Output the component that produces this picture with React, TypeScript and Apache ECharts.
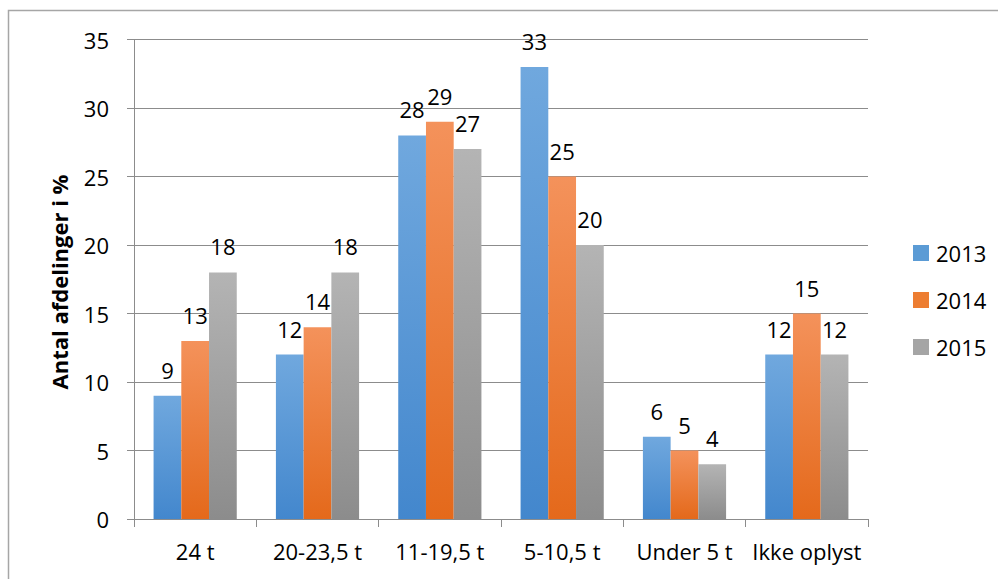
import React, { useEffect, useRef } from "react";
import * as echarts from "echarts";

const categories = ["24 t", "20-23,5 t", "11-19,5 t", "5-10,5 t", "Under 5 t", "Ikke oplyst"];
const seriesNames = ["2013", "2014", "2015"];
const values2013 = [9, 12, 28, 33, 6, 12];
const values2014 = [13, 14, 29, 25, 5, 15];
const values2015 = [18, 18, 27, 20, 4, 12];
const yTicks = { min: 0, max: 35, interval: 5 };

const FONT = "'Open Sans', 'Liberation Sans', sans-serif";

function grad(top: string, bottom: string) {
  return new echarts.graphic.LinearGradient(0, 0, 0, 1, [
    { offset: 0, color: top },
    { offset: 1, color: bottom },
  ]);
}

export default function App() {
  const ref = useRef<HTMLDivElement>(null);
  useEffect(() => {
    if (!ref.current) return;
    const chart = echarts.init(ref.current, null, { renderer: "svg" });
    const colors = [
      grad("#70a8de", "#4387cd"),
      grad("#f4925b", "#e4691b"),
      grad("#b4b4b4", "#8c8c8c"),
    ];
    const legendColors = ["#5b9bd5", "#ed7d31", "#a5a5a5"];
    const data = [values2013, values2014, values2015];
    chart.setOption({
      animation: false,
      backgroundColor: "#ffffff",
      textStyle: { fontFamily: FONT },
      graphic: [
        {
          type: "rect",
          shape: { x: 8.5, y: 10.5, width: 1000, height: 600 },
          style: { fill: "none", stroke: "#a6a6a6", lineWidth: 1.5 },
          silent: true,
        },
        {
          type: "text",
          x: 59,
          y: 282,
          rotation: Math.PI / 2,
          style: {
            text: "Antal afdelinger i %",
            fontFamily: FONT,
            fontWeight: "bold",
            fontSize: 22,
            fill: "#000",
            align: "center",
            verticalAlign: "middle",
          },
        },
      ],
      legend: {
        orient: "vertical",
        left: 908,
        top: 237,
        itemWidth: 16,
        itemHeight: 16,
        itemGap: 25,
        icon: "rect",
        textStyle: { fontSize: 22, color: "#000", fontFamily: FONT, padding: [0, 0, 0, 2] },
        data: seriesNames.map((n, i) => ({ name: n, itemStyle: { color: legendColors[i] } })),
      },
      grid: { left: 134, top: 39.5, width: 734, height: 479.5, containLabel: false },
      xAxis: {
        type: "category",
        data: categories,
        axisLine: { lineStyle: { color: "#8c8c8c", width: 1 } },
        axisTick: { show: true, length: 8, lineStyle: { color: "#8c8c8c" } },
        axisLabel: { fontSize: 22, color: "#000", margin: 21, fontFamily: FONT, interval: 0 },
      },
      yAxis: {
        type: "value",
        min: yTicks.min,
        max: yTicks.max,
        interval: yTicks.interval,
        axisLine: { show: true, lineStyle: { color: "#8c8c8c" } },
        axisTick: { show: true, length: 7, lineStyle: { color: "#8c8c8c" } },
        splitLine: { lineStyle: { color: "#8c8c8c" } },
        axisLabel: { fontSize: 22, color: "#000", margin: 25, fontFamily: FONT },
      },
      series: seriesNames.map((n, i) => ({
        name: n,
        type: "bar",
        data: data[i],
        barGap: "0%",
        barCategoryGap: "32%",
        itemStyle: { color: colors[i] },
        label: {
          show: true,
          position: "top",
          distance: 15,
          fontSize: 22,
          color: "#000",
          fontFamily: FONT,
        },
      })),
    });
    return () => chart.dispose();
  }, []);
  return (
    <div
      ref={ref}
      style={{ position: "fixed", left: 0, top: 0, width: 998, height: 579 }}
    />
  );
}
